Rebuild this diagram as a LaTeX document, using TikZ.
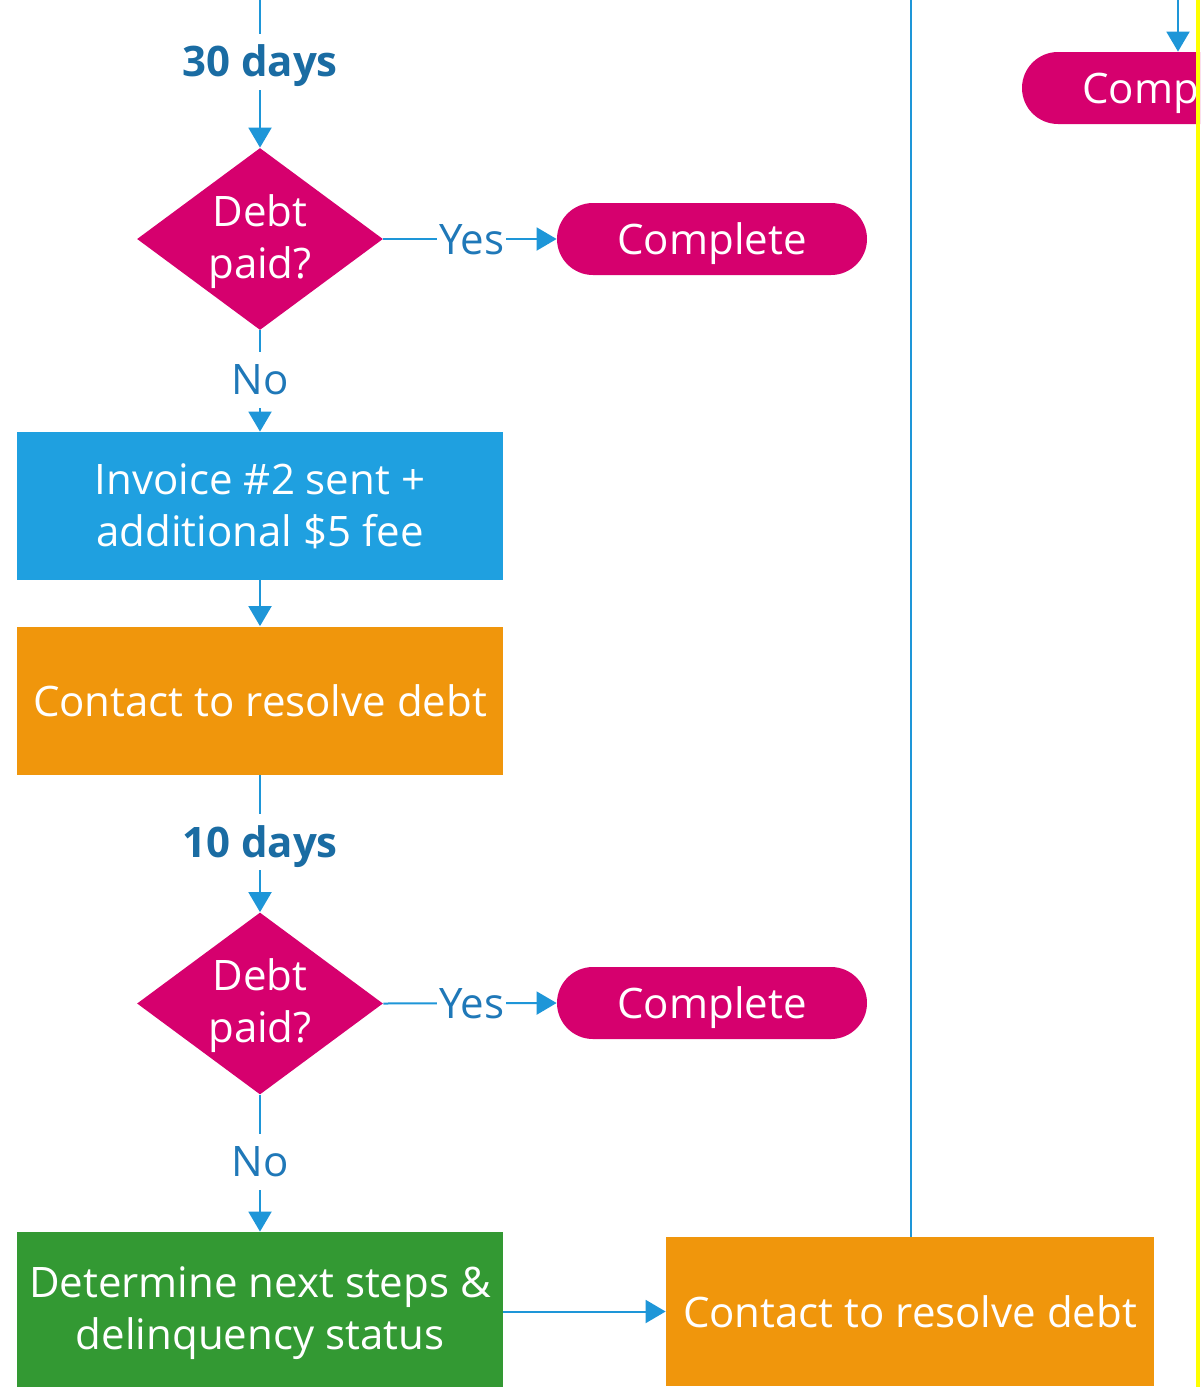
\documentclass[tikz,border=0pt]{standalone}
\usepackage{fontspec}
\setmainfont{Open Sans}
\usetikzlibrary{shapes.geometric,arrows.meta}
\definecolor{magentaF}{HTML}{D6006E}
\definecolor{blueF}{HTML}{1FA0E0}
\definecolor{orangeF}{HTML}{F0960C}
\definecolor{greenF}{HTML}{339933}
\definecolor{connC}{HTML}{1E96D8}
\definecolor{lblC}{HTML}{1F78B8}
\definecolor{daysC}{HTML}{1A6CA3}
\definecolor{edgeY}{HTML}{FFFF00}
\begin{document}
\begin{tikzpicture}[x=0.5pt,y=-0.5pt,
  base/.style={text=white, font=\fontsize{21}{26}\selectfont, align=center, inner sep=0pt},
  procbox/.style={base, rectangle, minimum width=243pt, minimum height=74pt},
  terminal/.style={base, rectangle, fill=magentaF, rounded corners=18pt,
    minimum width=155pt, minimum height=36pt, text height=19pt, text depth=4pt},
  decision/.style={base, diamond, fill=magentaF, shape aspect=1.35,
    minimum width=123pt, minimum height=91pt},
  conn/.style={draw=connC, line width=1pt, -{Triangle[width=11.5pt,length=10pt]}},
  plainline/.style={draw=connC, line width=1pt},
  lbl/.style={fill=white, text=lblC, font=\fontsize{21}{26}\selectfont,
    inner xsep=1pt, inner ysep=3.5pt, text height=18pt, text depth=3pt},
  daylbl/.style={lbl, text=daysC, font=\fontsize{21}{26}\selectfont\bfseries}
]
\useasboundingbox (0,0) rectangle (1200,1387);
\clip (0,0) rectangle (1200,1387);
\fill[white] (0,0) rectangle (1200,1387);

% left column
\node[decision] (d1) at (260,239) {\strut Debt\\paid?};
\node[terminal] (c1) at (712,239) {Complete};
\node[procbox, fill=blueF] (b1) at (260,506) {Invoice \#2 sent +\\additional \$5 fee};
\node[procbox, fill=orangeF] (o1) at (260,700.5) {Contact to resolve debt};
\node[decision] (d2) at (260,1003.5) {\strut Debt\\paid?};
\node[terminal] (c2) at (712,1003) {Complete};
\node[procbox, fill=greenF, minimum height=81pt] (g1) at (260,1313) {Determine next steps \&\\delinquency status};

% right column
\node[procbox, fill=orangeF, minimum width=244pt, minimum height=74.5pt] (o2) at (910,1311.5) {Contact to resolve debt};
\node[terminal] (c3) at (1177,88) {Complete};

\coordinate (t1) at (260,0);
\coordinate (t2) at (911,0);
\coordinate (t3) at (1178,0);

% connectors
\draw[conn] (t1) -- node[pos=0.42, daylbl] {30 days} (d1.north);
\draw[conn] (d1.east) -- node[pos=0.51, lbl] {Yes} (c1.west);
\draw[conn] (d1.south) -- node[pos=0.49, lbl] {No} (b1.north);
\draw[conn] (b1.south) -- (o1.north);
\draw[conn] (o1.south) -- node[pos=0.49, daylbl] {10 days} (d2.north);
\draw[conn] (d2.east) -- node[pos=0.51, lbl] {Yes} (c2.west);
\draw[conn] (d2.south) -- node[pos=0.49, lbl] {No} (g1.north);
\draw[conn] (g1.east |- o2.west) -- (o2.west);
\draw[plainline] (t2) -- (t2 |- o2.north);
\draw[conn] (t3) -- (t3 |- c3.north);

% right edge strip
\fill[edgeY] (1196,0) rectangle (1200,1387);
\end{tikzpicture}
\end{document}
